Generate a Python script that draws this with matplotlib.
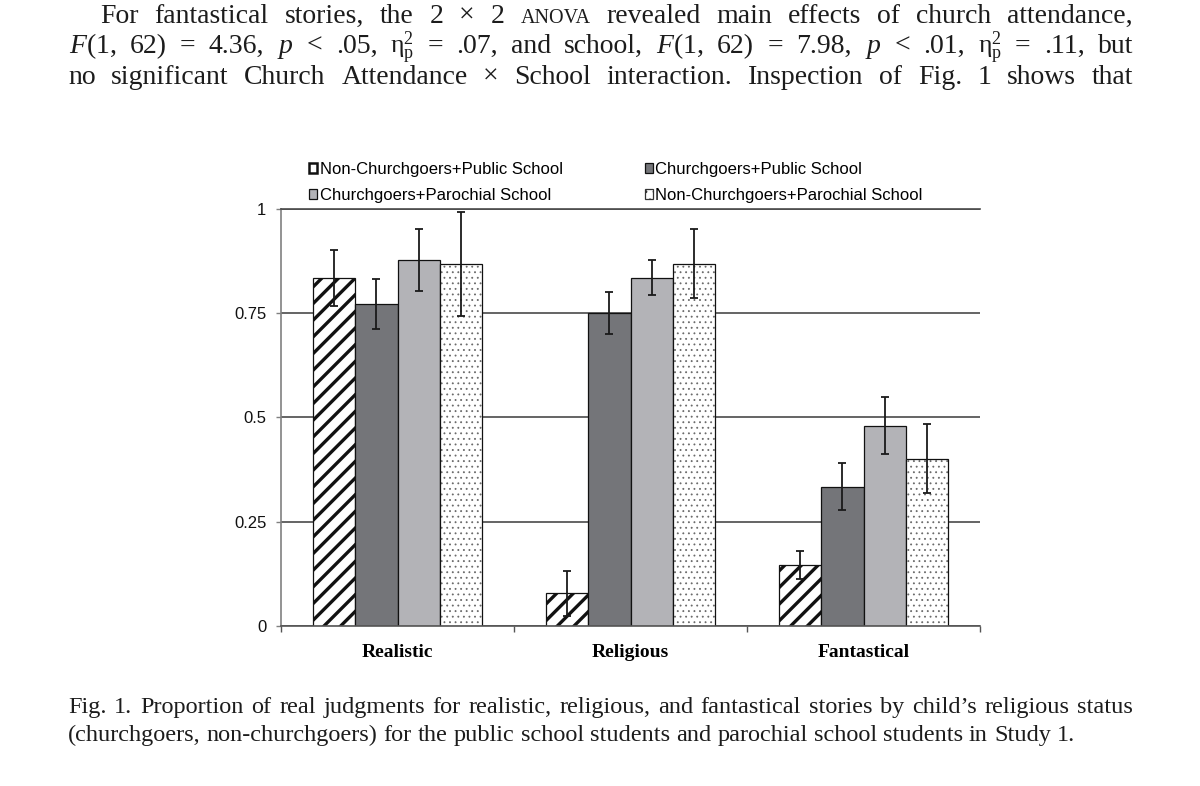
import matplotlib
matplotlib.use("Agg")
import numpy as np
import matplotlib.pyplot as plt
from matplotlib.patches import Patch
from matplotlib.ticker import FixedLocator

W, H = 1200, 786

# data
categories = ["Realistic", "Religious", "Fantastical"]
series = [
    "Non-Churchgoers+Public School",
    "Churchgoers+Public School",
    "Churchgoers+Parochial School",
    "Non-Churchgoers+Parochial School",
]
nonch_public = [0.835, 0.078, 0.146]
nonch_public_err = [0.067, 0.053, 0.034]
ch_public = [0.772, 0.751, 0.334]
ch_public_err = [0.060, 0.051, 0.056]
ch_parochial = [0.877, 0.835, 0.480]
ch_parochial_err = [0.074, 0.042, 0.068]
nonch_parochial = [0.868, 0.869, 0.401]
nonch_parochial_err = [0.125, 0.082, 0.083]
ytick_values = [0, 0.25, 0.5, 0.75, 1]
ytick_labels = ["0", "0.25", "0.5", "0.75", "1"]

eta = (r"$\mathrm{\eta}^{2}_{\mathrm{p}}$", 18.5)
para_lines = [
    ["For", "fantastical", "stories,", "the", "2", "\u00d7", "2", ("ANOVA", 14.5),
     "revealed", "main", "effects", "of", "church", "attendance,"],
    ["$F$(1,", "62)", "=", "4.36,", "$p$", "<", ".05,", eta, "=", ".07,", "and",
     "school,", "$F$(1,", "62)", "=", "7.98,", "$p$", "<", ".01,", eta, "=", ".11,", "but"],
    ["no", "significant", "Church", "Attendance", "\u00d7", "School", "interaction.",
     "Inspection", "of", "Fig.", "1", "shows", "that"],
]
caption_lines = [
    "Fig. 1.  Proportion of real judgments for realistic, religious, and fantastical "
    "stories by child\u2019s religious status".split(" "),
    "(churchgoers, non-churchgoers) for the public school students and parochial "
    "school students in Study 1.".split(" "),
]

plt.rcParams["mathtext.fontset"] = "custom"
plt.rcParams["mathtext.rm"] = "Liberation Serif"
plt.rcParams["mathtext.it"] = "Liberation Serif:italic"
plt.rcParams["mathtext.bf"] = "Liberation Serif:bold"

dark = "#747579"
light = "#b3b3b7"
ink = "#1c1c1c"

fig = plt.figure(figsize=(W / 100, H / 100), dpi=100)
fig.patch.set_facecolor("white")
renderer = fig.canvas.get_renderer()


def put_line(tokens, x0, y, size, x1=None):
    objs = []
    for tok in tokens:
        if tok == "":
            continue
        s, fs = (tok, size) if isinstance(tok, str) else tok
        objs.append(fig.text(0, 1 - y / H, s, fontsize=fs, family="Liberation Serif",
                             va="baseline", ha="left", color=ink))
    widths = [t.get_window_extent(renderer).width for t in objs]
    if x1 is None:
        gap = size * 100 / 72 * 0.25
    else:
        gap = (x1 - x0 - sum(widths)) / (len(objs) - 1)
    x = x0
    for t, w in zip(objs, widths):
        t.set_x(x / W)
        x += w + gap


put_line(para_lines[0], 100, 23, 20, 1133)
put_line(para_lines[1], 69, 53, 20, 1133)
put_line(para_lines[2], 68, 84, 20, 1133)
put_line(caption_lines[0], 68, 713, 17.5, 1133)
put_line(caption_lines[1], 68, 741, 17.5)

# chart
ax = fig.add_axes([281 / W, 1 - 626 / H, (980 - 281) / W, (626 - 209) / H])
x = np.arange(len(categories))
w = 0.182
vals = [nonch_public, ch_public, ch_parochial, nonch_parochial]
errs = [nonch_public_err, ch_public_err, ch_parochial_err, nonch_parochial_err]
faces = ["white", dark, light, "white"]

for i in range(4):
    pos = x + (i - 1.5) * w
    if i == 0:
        bars = ax.bar(pos, vals[i], w, color="white", edgecolor="#111111",
                      linewidth=0.9, hatch="//", zorder=2)
        for b in bars:
            if hasattr(b, "set_hatch_linewidth"):
                b.set_hatch_linewidth(2.4)
    elif i == 3:
        # fine grey dots, then the black outline on top
        dots = ax.bar(pos, vals[i], w, color="white", edgecolor="#6a6a6a",
                      linewidth=0, hatch="...", zorder=2)
        for b in dots:
            if hasattr(b, "set_hatch_linewidth"):
                b.set_hatch_linewidth(0.6)
        ax.bar(pos, vals[i], w, fill=False, edgecolor="#111111", linewidth=0.9, zorder=2)
    else:
        ax.bar(pos, vals[i], w, color=faces[i], edgecolor="#111111",
               linewidth=0.9, zorder=2)
    ax.errorbar(pos, vals[i], yerr=errs[i], fmt="none", ecolor="#1a1a1a",
                elinewidth=1.3, capsize=2.6, capthick=1.3, zorder=3)

ax.set_xlim(-0.5, 2.5)
ax.set_ylim(0, 1)
ax.set_axisbelow(True)
ax.yaxis.grid(True, color="#4a4a4a", linewidth=1.2)

ax.set_yticks(ytick_values)
ax.set_yticklabels(ytick_labels, family="Liberation Sans", fontsize=12)
ax.tick_params(axis="y", length=3.6, width=1.0, pad=7, labelcolor="#111111", color="#808080")

ax.set_xticks(x)
ax.set_xticklabels(categories, family="Liberation Serif", fontweight="bold", fontsize=14)
ax.xaxis.set_minor_locator(FixedLocator([-0.5, 0.5, 1.5, 2.5]))
ax.tick_params(axis="x", which="major", length=0, pad=13)
ax.tick_params(axis="x", which="minor", length=4.3, width=1.0, color="#555555")

ax.spines["right"].set_visible(False)
ax.spines["top"].set_color("#4a4a4a")
ax.spines["top"].set_linewidth(1.2)
ax.spines["left"].set_color("#808080")
ax.spines["left"].set_linewidth(1.2)
ax.spines["bottom"].set_color("#555555")
ax.spines["bottom"].set_linewidth(1.2)

# legend with small square keys, filled row by row
fs_leg = 12
px = fs_leg * 100 / 72
keys = [
    Patch(facecolor="white", edgecolor="#111111", linewidth=1.8),
    Patch(facecolor=dark, edgecolor="#111111", linewidth=0.9),
    Patch(facecolor=light, edgecolor="#111111", linewidth=0.9),
    Patch(facecolor="white", edgecolor="#333333", linewidth=0.9, hatch=".."),
]
order = [0, 2, 1, 3]
fig.legend([keys[k] for k in order], [series[k] for k in order],
           loc="upper left", bbox_to_anchor=(309 / W, 1 - 162 / H), ncol=2,
           frameon=False, handlelength=8 / px, handleheight=8 / px,
           handletextpad=2.5 / px, columnspacing=82 / px, labelspacing=0.66,
           borderpad=0, borderaxespad=0,
           prop={"family": "Liberation Sans", "size": fs_leg})

fig.savefig("out.png", dpi=100, facecolor="white")
